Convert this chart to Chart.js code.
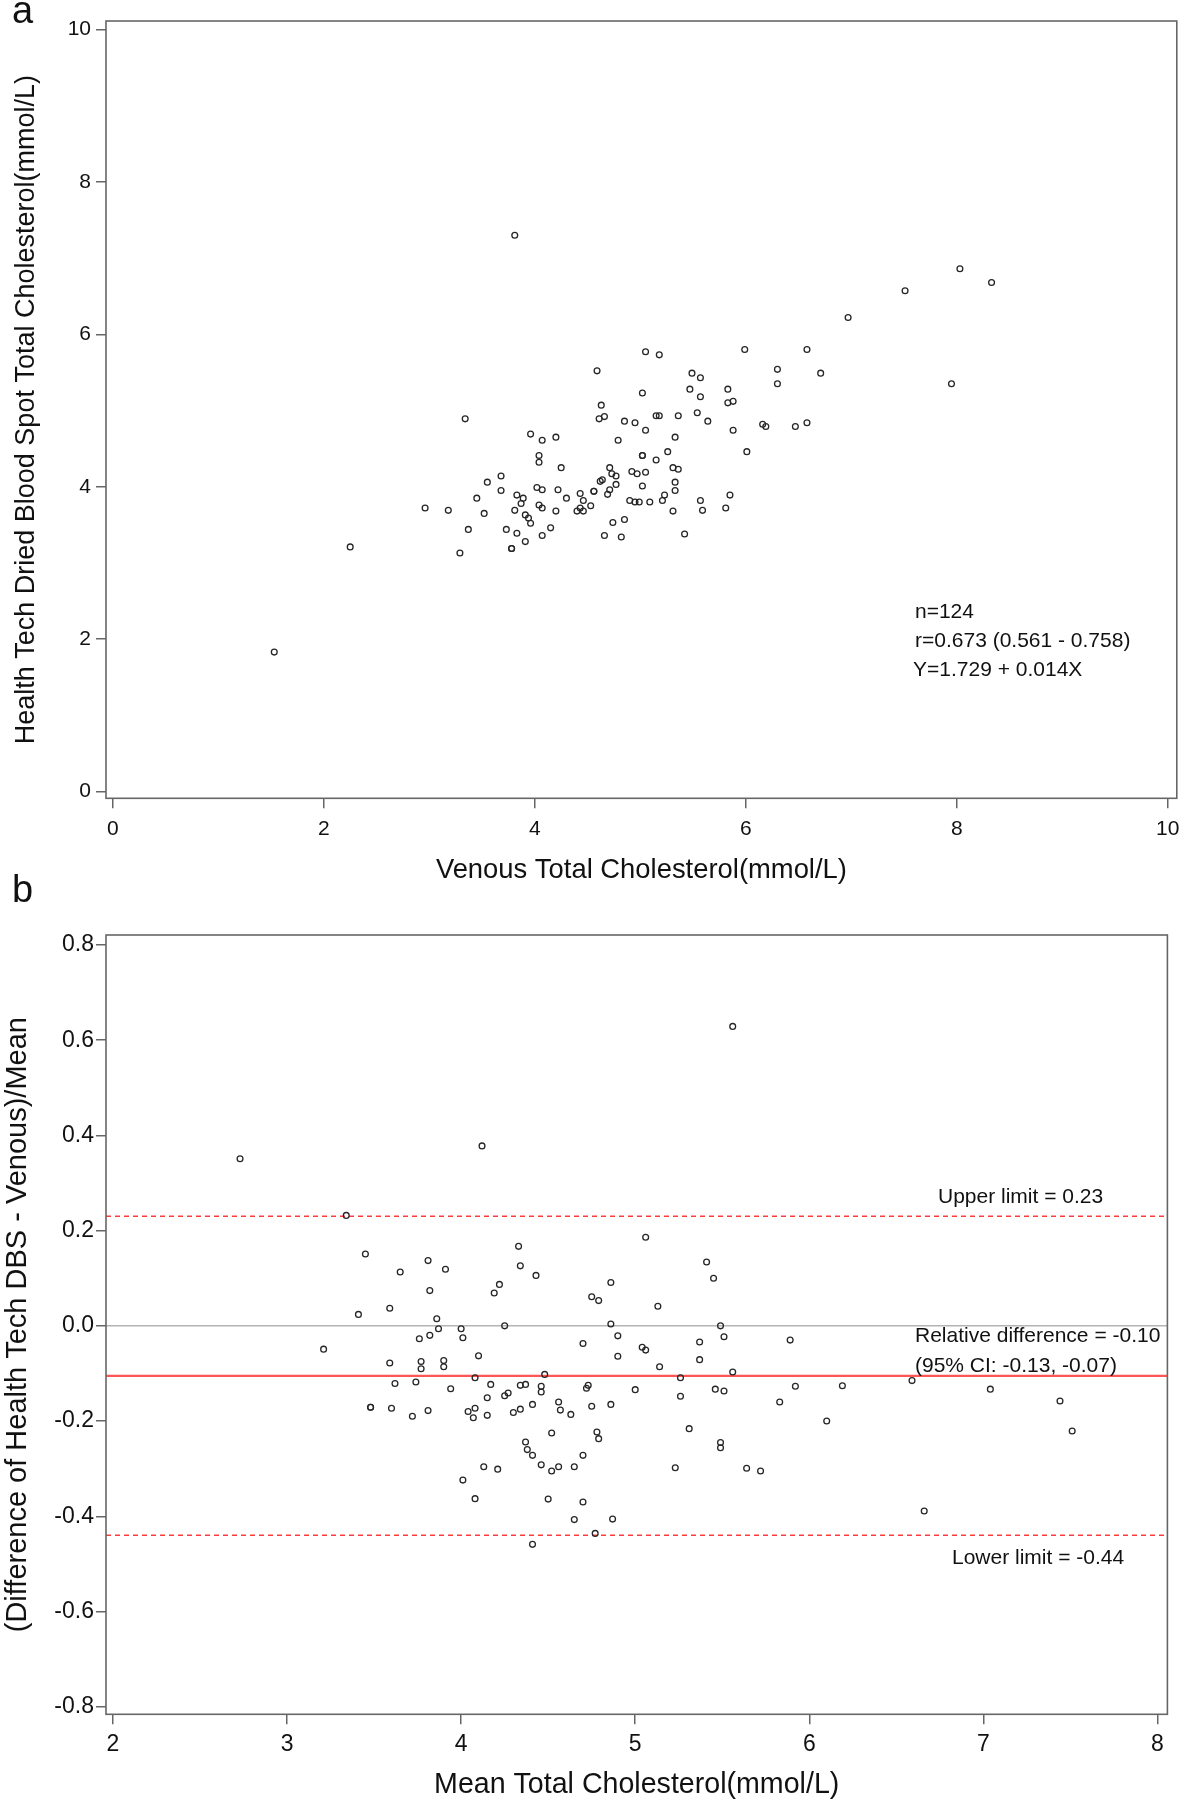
<!DOCTYPE html>
<html>
<head>
<meta charset="utf-8">
<title>Health Tech DBS vs venous total cholesterol</title>
<script src="https://cdn.jsdelivr.net/npm/chart.js@4.4.1/dist/chart.umd.min.js"></script>
<style>
    html, body { margin: 0; padding: 0; background: #fff; }
    #wrap { position: relative; width: 1181px; height: 1800px; overflow: hidden; }
    .panel { position: absolute; left: 0; }
    #panel-a { top: 0; }
    #panel-b { top: 850px; }
</style>
</head>
<body>
<div id="wrap">
    <div class="panel" id="panel-a"><canvas id="scatter-chart" width="1181" height="895"></canvas></div>
    <div class="panel" id="panel-b"><canvas id="bland-altman-chart" width="1181" height="950"></canvas></div>
</div>
<script>
// ---- Panel a data: venous vs dried blood spot total cholesterol (mmol/L) ----
const venousTC = [
    5.05, 4.59, 5.02, 4.63, 4.61, 4.66, 4.85, 4.95, 5.05, 3.34, 3.96, 4.07, 4.20, 4.79, 4.04, 4.04,
    5.02, 5.02, 4.25, 4.71, 4.73, 4.77, 4.92, 4.97, 5.05, 3.68, 3.55, 4.62, 4.64, 4.77, 5.02, 3.68,
    4.02, 4.07, 4.22, 4.56, 4.56, 4.71, 4.69, 4.43, 4.30, 4.46, 3.45, 3.83, 3.89, 3.87, 2.96, 3.18,
    3.52, 3.81, 4.04, 4.07, 4.20, 4.40, 4.43, 4.46, 4.53, 4.90, 4.95, 4.99, 5.09, 3.91, 3.94, 3.96,
    3.37, 3.73, 3.83, 4.15, 4.74, 4.85, 3.91, 4.07, 4.66, 4.82, 3.78, 3.78, 3.29,
    5.18, 5.99, 6.58, 5.49, 5.57, 6.30, 6.71, 6.30, 5.47, 5.57, 5.83, 5.83, 5.88, 5.15, 5.18, 5.36,
    5.54, 5.64, 5.33, 5.88, 6.16, 6.19, 6.47, 6.58, 6.01, 5.15, 5.26, 5.31, 5.36, 5.33, 5.33, 5.23,
    5.21, 5.31, 5.57, 5.59, 5.85, 5.81, 5.42,
    3.81, 6.97, 7.51, 8.03, 8.33, 7.95, 1.53, 2.25
];
const dbsTC = [
    5.77, 5.52, 5.23, 5.07, 4.89, 4.92, 4.86, 4.84, 4.74, 4.89, 4.69, 4.61, 4.65, 4.61, 4.41, 4.32,
    4.41, 4.41, 4.25, 4.25, 4.17, 4.14, 4.20, 4.17, 4.19, 4.14, 4.06, 4.07, 4.09, 4.03, 4.01, 3.95,
    3.99, 3.96, 3.96, 3.94, 3.94, 3.96, 3.90, 3.91, 3.85, 3.82, 3.85, 3.89, 3.85, 3.78, 3.72, 3.69,
    3.65, 3.69, 3.76, 3.72, 3.68, 3.68, 3.72, 3.68, 3.75, 3.82, 3.80, 3.80, 3.80, 3.63, 3.59, 3.52,
    3.44, 3.44, 3.39, 3.46, 3.53, 3.57, 3.28, 3.36, 3.36, 3.34, 3.19, 3.19, 3.13,
    5.73, 5.80, 5.80, 5.49, 5.43, 5.54, 5.49, 5.35, 5.28, 5.18, 5.28, 5.10, 5.12, 4.93, 4.93, 4.93,
    4.97, 4.86, 4.65, 4.74, 4.82, 4.79, 4.79, 4.84, 4.46, 4.35, 4.46, 4.25, 4.23, 4.06, 3.95, 3.89,
    3.82, 3.68, 3.82, 3.69, 3.89, 3.72, 3.38,
    7.30, 6.22, 6.57, 6.86, 6.68, 5.35, 1.83, 3.21
];

// ---- Panel b data: mean vs relative difference (DBS - venous)/mean ----
const meanTC = [
    3.34, 3.45, 3.65, 3.81, 3.91, 3.82, 4.33, 4.34, 4.43, 4.22, 4.19, 3.41, 3.59, 3.86, 3.87, 4.00,
    4.25, 3.76, 3.82, 4.01, 3.21, 4.10, 3.59, 3.77, 3.77, 3.90, 3.90, 4.08, 4.48, 3.62, 3.74, 3.94,
    4.17, 4.34, 4.37, 4.46, 4.46, 4.15, 4.25, 4.27, 3.48, 3.48, 3.60, 3.81, 3.72, 4.04, 4.08, 4.07,
    4.15, 4.30, 4.34, 4.41, 4.56, 4.57, 4.63, 4.52, 4.37, 4.38, 4.41, 4.13, 4.21, 4.46, 4.52, 4.56,
    4.65, 4.01, 4.08, 4.50, 4.65, 4.41,
    5.06, 5.41, 5.45, 4.86, 4.75, 4.79, 5.13, 4.86, 5.49, 4.90, 4.70, 5.04, 5.06, 5.37, 5.51, 5.89,
    4.90, 5.37, 5.14, 5.56, 5.26, 4.72, 4.73, 5.00, 5.46, 5.51, 5.92, 6.19, 5.26, 4.75, 4.86, 5.83,
    6.10, 5.31, 4.78, 4.79, 5.49, 5.49, 4.70, 5.23, 5.64, 5.72, 4.70, 4.87, 4.77,
    2.73, 4.12, 5.56, 6.59, 6.66, 7.04, 7.44, 7.51
];
const relDiff = [
    0.232, 0.151, 0.113, 0.137, 0.119, 0.074, 0.167, 0.126, 0.106, 0.087, 0.069, 0.024, 0.037, 0.015, -0.006, -0.006,
    0.000, -0.027, -0.020, -0.025, -0.049, -0.063, -0.078, -0.075, -0.090, -0.073, -0.086, -0.109, -0.102, -0.121, -0.118, -0.132,
    -0.123, -0.125, -0.123, -0.127, -0.139, -0.151, -0.147, -0.141, -0.171, -0.171, -0.173, -0.178, -0.190, -0.180, -0.173, -0.193,
    -0.188, -0.182, -0.175, -0.165, -0.160, -0.177, -0.186, -0.225, -0.244, -0.260, -0.272, -0.296, -0.301, -0.292, -0.305, -0.296,
    -0.296, -0.324, -0.363, -0.364, -0.407, -0.459,
    0.186, 0.134, 0.100, 0.091, 0.061, 0.053, 0.041, 0.004, 0.000, -0.021, -0.037, -0.045, -0.051, -0.034, -0.023, -0.030,
    -0.064, -0.071, -0.086, -0.097, -0.109, -0.131, -0.125, -0.134, -0.133, -0.137, -0.127, -0.126, -0.148, -0.169, -0.165, -0.160,
    -0.200, -0.216, -0.223, -0.237, -0.245, -0.256, -0.272, -0.298, -0.299, -0.305, -0.370, -0.406, -0.436,
    0.351, 0.378, 0.629, -0.115, -0.389, -0.133, -0.158, -0.221
];

// ---- Axis ticks and reference lines ----
const scatterTicksX = [0, 2, 4, 6, 8, 10];
const scatterTicksY = [0, 2, 4, 6, 8, 10];
const baTicksX = [2, 3, 4, 5, 6, 7, 8];
const baTicksY = [-0.8, -0.6, -0.4, -0.2, 0.0, 0.2, 0.4, 0.6, 0.8];
const zeroLine = 0;
const meanDifference = -0.105;
const upperLimit = 0.23;
const lowerLimit = -0.44;

// ---- Annotation texts ----
const statsLines = ['n=124', 'r=0.673 (0.561 - 0.758)', 'Y=1.729 + 0.014X'];
const limitLabels = ['Upper limit = 0.23', 'Relative difference = -0.10', '(95% CI: -0.13, -0.07)', 'Lower limit = -0.44'];

const FONT = "'Liberation Sans', Arial, Helvetica, sans-serif";
const FRAME_COLOR = '#666';

Chart.defaults.font.family = FONT;
Chart.defaults.color = '#111';

// Draws the closed box round the plot area
const framePlugin = {
    id: 'frame',
    afterDatasetsDraw(chart) {
        const { ctx, chartArea: a } = chart;
        ctx.save();
        ctx.strokeStyle = FRAME_COLOR;
        ctx.lineWidth = 1.6;
        ctx.strokeRect(a.left, a.top, a.right - a.left, a.bottom - a.top);
        ctx.restore();
    }
};

// Free text (panel letter, stats) at fixed canvas spots
const textPlugin = {
    id: 'freeText',
    afterDraw(chart, args, opts) {
        const ctx = chart.ctx;
        ctx.save();
        (opts.items || []).forEach(item => {
            ctx.font = item.size + 'px ' + FONT;
            ctx.fillStyle = '#111';
            ctx.textAlign = 'left';
            ctx.textBaseline = item.baseline || 'middle';
            ctx.fillText(item.text, item.x, item.y);
        });
        ctx.restore();
    }
};

function pairs(xs, ys) {
    return xs.map((x, i) => ({ x: x, y: ys[i] }));
}

function fixedTicks(values) {
    return axis => { axis.ticks = values.map(v => ({ value: v })); };
}

// Fixed axis box size; drop the label overflow padding so the plot area stays put
function fixedSize(prop, size) {
    return s => {
        s[prop] = size;
        s.paddingLeft = 0;
        s.paddingRight = 0;
        s.paddingTop = 0;
        s.paddingBottom = 0;
    };
}

function axisStyle(o) {
    return {
        type: 'linear',
        min: o.min,
        max: o.max,
        afterBuildTicks: fixedTicks(o.ticks),
        afterFit: o.fit,
        border: { display: false },
        grid: { drawOnChartArea: false, drawTicks: true, tickLength: 10, color: FRAME_COLOR, lineWidth: 1.5 },
        ticks: {
            font: { size: o.tickSize },
            padding: o.tickPad,
            color: '#111',
            callback: o.format
        },
        title: {
            display: true,
            text: o.title,
            font: { size: o.titleSize, lineHeight: 1 },
            color: '#111',
            padding: o.titlePad
        }
    };
}

const pointStyle = {
    pointRadius: 2.9,
    pointBorderWidth: 1.3,
    pointBorderColor: '#262626',
    pointBackgroundColor: 'rgba(0,0,0,0)',
    pointHoverRadius: 2.9
};

// Panel a: correlation scatter
function renderScatterChart() {
    const ctx = document.getElementById('scatter-chart');
    return new Chart(ctx, {
        type: 'scatter',
        data: {
            datasets: [Object.assign({ data: pairs(venousTC, dbsTC) }, pointStyle)]
        },
        options: {
            responsive: false,
            animation: false,
            layout: { padding: { top: 21, right: 3.5, left: 0, bottom: 0 } },
            plugins: {
                legend: { display: false },
                tooltip: { enabled: false },
                freeText: {
                    items: [
                        { text: 'a', x: 12, y: 23, size: 38, baseline: 'alphabetic' },
                        { text: statsLines[0], x: 915, y: 612, size: 21 },
                        { text: statsLines[1], x: 915, y: 641, size: 21 },
                        { text: statsLines[2], x: 913, y: 670, size: 21 }
                    ]
                }
            },
            scales: {
                x: axisStyle({
                    min: -0.065, max: 10.086, ticks: scatterTicksX,
                    fit: fixedSize('height', 96.7),
                    tickSize: 21, tickPad: 8, format: v => String(v),
                    title: 'Venous Total Cholesterol(mmol/L)', titleSize: 27.4,
                    titlePad: { top: 0, bottom: 11 }
                }),
                y: axisStyle({
                    min: -0.088, max: 10.11, ticks: scatterTicksY,
                    fit: fixedSize('width', 106),
                    tickSize: 21, tickPad: 5, format: v => String(v),
                    title: 'Health Tech Dried Blood Spot Total Cholesterol(mmol/L)', titleSize: 27,
                    titlePad: { top: 13, bottom: 0 }
                })
            }
        },
        plugins: [framePlugin, textPlugin]
    });
}

// Panel b: Bland-Altman style relative difference plot
function renderBlandAltmanChart() {
    const ctx = document.getElementById('bland-altman-chart');
    const xMin = 1.96, xMax = 8.057;
    const hLine = (v, color, width, dash) => ({
        type: 'line',
        data: [{ x: xMin, y: v }, { x: xMax, y: v }],
        borderColor: color,
        borderWidth: width,
        borderDash: dash,
        pointRadius: 0,
        fill: false,
        order: 2
    });
    return new Chart(ctx, {
        type: 'scatter',
        data: {
            datasets: [
                Object.assign({ data: pairs(meanTC, relDiff), order: 0 }, pointStyle),
                hLine(zeroLine, '#b4b4b4', 1.5, []),
                hLine(meanDifference, '#ff5555', 2.2, []),
                hLine(upperLimit, '#ff3b3b', 1.5, [5, 4]),
                hLine(lowerLimit, '#ff3b3b', 1.5, [5, 4])
            ]
        },
        options: {
            responsive: false,
            animation: false,
            layout: { padding: { top: 85, right: 13.6, left: 0, bottom: 0 } },
            plugins: {
                legend: { display: false },
                tooltip: { enabled: false },
                freeText: {
                    items: [
                        { text: 'b', x: 12, y: 52, size: 38, baseline: 'alphabetic' },
                        { text: limitLabels[0], x: 938, y: 347, size: 21 },
                        { text: limitLabels[1], x: 915, y: 486, size: 21 },
                        { text: limitLabels[2], x: 915, y: 516, size: 21 },
                        { text: limitLabels[3], x: 952, y: 708, size: 21 }
                    ]
                }
            },
            scales: {
                x: axisStyle({
                    min: xMin, max: xMax, ticks: baTicksX,
                    fit: fixedSize('height', 85.7),
                    tickSize: 23, tickPad: 7, format: v => String(v),
                    title: 'Mean Total Cholesterol(mmol/L)', titleSize: 28.6,
                    titlePad: { top: 0, bottom: 1 }
                }),
                y: axisStyle({
                    min: -0.816, max: 0.821, ticks: baTicksY,
                    fit: fixedSize('width', 106),
                    tickSize: 23, tickPad: 2, format: v => v.toFixed(1),
                    title: '(Difference of Health Tech DBS - Venous)/Mean', titleSize: 29,
                    titlePad: { top: 3, bottom: 0 }
                })
            }
        },
        plugins: [framePlugin, textPlugin]
    });
}

renderScatterChart();
renderBlandAltmanChart();
</script>
</body>
</html>
